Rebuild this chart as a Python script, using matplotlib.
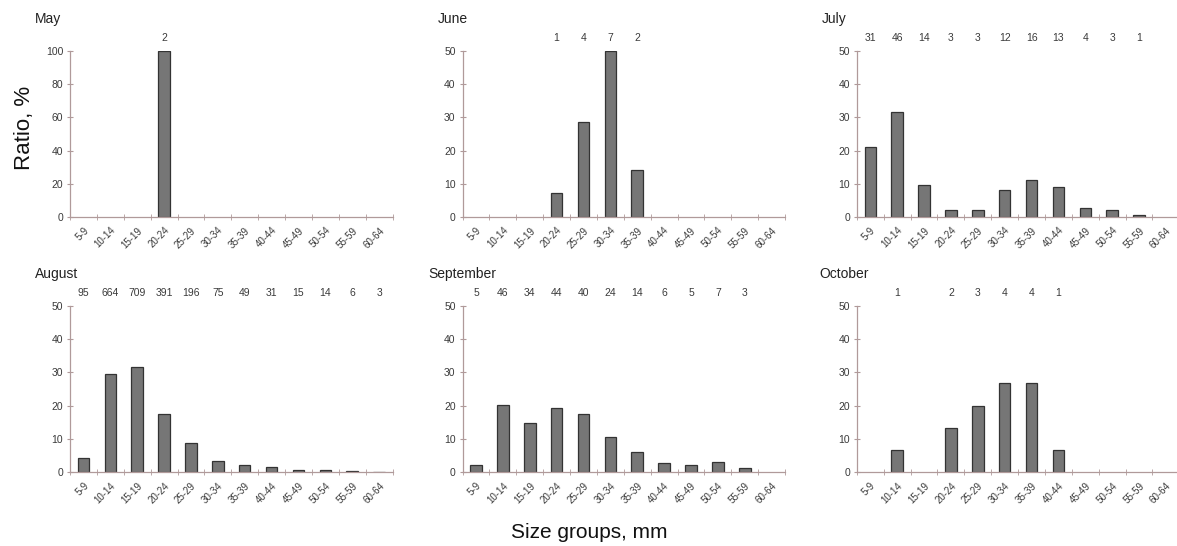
import numpy as np
import matplotlib.pyplot as plt

plt.rcParams['font.family'] = ['Liberation Sans', 'DejaVu Sans']

size_groups = ['5-9', '10-14', '15-19', '20-24', '25-29', '30-34',
               '35-39', '40-44', '45-49', '50-54', '55-59', '60-64']
months = ['May', 'June', 'July', 'August', 'September', 'October']

# ratio (%) per size group
ratio_may = [0, 0, 0, 100, 0, 0, 0, 0, 0, 0, 0, 0]
ratio_june = [0, 0, 0, 7.1, 28.6, 50.0, 14.3, 0, 0, 0, 0, 0]
ratio_july = [21.2, 31.5, 9.6, 2.1, 2.1, 8.2, 11.0, 8.9, 2.7, 2.1, 0.7, 0]
ratio_august = [4.2, 29.5, 31.5, 17.4, 8.7, 3.3, 2.2, 1.4, 0.7, 0.6, 0.3, 0.15]
ratio_september = [2.2, 20.2, 14.9, 19.3, 17.5, 10.5, 6.1, 2.6, 2.2, 3.1, 1.3, 0]
ratio_october = [0, 6.7, 0, 13.3, 20.0, 26.7, 26.7, 6.7, 0, 0, 0, 0]

# number of individuals written above each group (None = no label)
n_may = [None, None, None, 2, None, None, None, None, None, None, None, None]
n_june = [None, None, None, 1, 4, 7, 2, None, None, None, None, None]
n_july = [31, 46, 14, 3, 3, 12, 16, 13, 4, 3, 1, None]
n_august = [95, 664, 709, 391, 196, 75, 49, 31, 15, 14, 6, 3]
n_september = [5, 46, 34, 44, 40, 24, 14, 6, 5, 7, 3, None]
n_october = [None, 1, None, 2, 3, 4, 4, 1, None, None, None, None]

ratios = [ratio_may, ratio_june, ratio_july, ratio_august, ratio_september, ratio_october]
counts = [n_may, n_june, n_july, n_august, n_september, n_october]
y_max = [100, 50, 50, 50, 50, 50]

axis_col = '#b09a9a'
text_col = '#3a3a3a'

fig = plt.figure(figsize=(11.77, 5.46), dpi=100)

lefts = [0.0595, 0.393, 0.728]
bottoms = [0.6026, 0.1355]
title_dx = [-0.108, -0.077, -0.109, -0.108, -0.107, -0.116]

x = np.arange(len(size_groups))

for i, month in enumerate(months):
    ax = fig.add_axes([lefts[i % 3], bottoms[i // 3], 0.274, 0.304])
    vals = np.array(ratios[i], dtype=float)
    has = vals > 0  # empty groups get no bar outline
    ax.bar(x[has], vals[has], width=0.43, color='#767676', edgecolor='#333333',
           linewidth=0.9)

    ax.set_xlim(-0.5, len(size_groups) - 0.5)
    ax.set_ylim(0, y_max[i])
    ax.set_yticks(np.linspace(0, y_max[i], 6))

    ax.set_xticks(x)
    ax.set_xticklabels(size_groups, rotation=45, ha='right', rotation_mode='anchor',
                       fontsize=7, color=text_col)
    ax.set_xticks(np.arange(-0.5, len(size_groups)), minor=True)
    ax.tick_params(axis='x', which='major', length=0, pad=6)
    ax.tick_params(axis='x', which='minor', length=4, direction='inout', color=axis_col)
    ax.tick_params(axis='y', length=4, direction='inout', color=axis_col,
                   labelsize=7.5, labelcolor=text_col, pad=3)

    for side in ['top', 'right']:
        ax.spines[side].set_visible(False)
    for side in ['left', 'bottom']:
        ax.spines[side].set_color(axis_col)
        ax.spines[side].set_linewidth(0.9)

    ax.text(title_dx[i], 1.19, month, transform=ax.transAxes, fontsize=10,
            color='#222222', ha='left', va='center')

    for j, n in enumerate(counts[i]):
        if n is not None:
            ax.text(j, 1.08, str(n), transform=ax.get_xaxis_transform(),
                    fontsize=7.5, color=text_col, ha='center', va='center')

fig.text(0.021, 0.766, 'Ratio, %', rotation=90, fontsize=16, ha='center', va='center',
         color='#111111')
fig.text(0.501, 0.024, 'Size groups, mm', fontsize=15, ha='center', va='center',
         color='#111111')

fig.savefig('out.png', dpi=100)
